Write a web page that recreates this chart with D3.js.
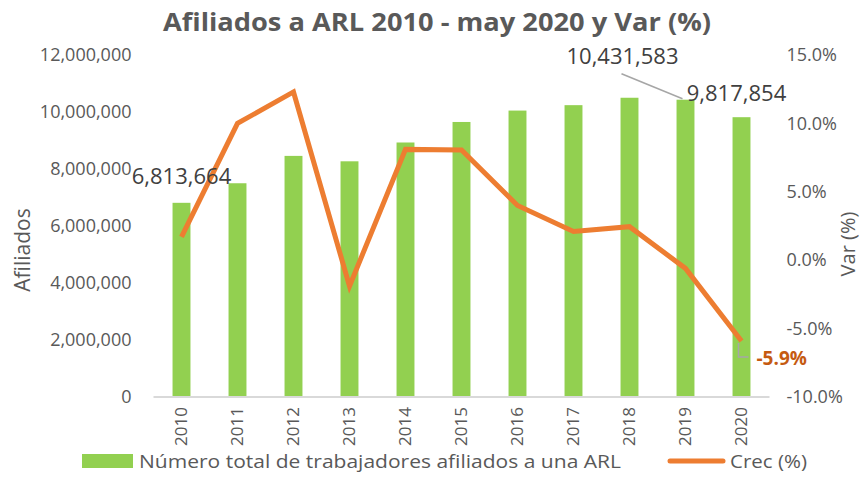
<!DOCTYPE html>
<html><head><meta charset="utf-8">
<script src="https://cdn.jsdelivr.net/npm/d3@7"></script>
<style>
html,body{margin:0;padding:0;background:#fff;}
svg{display:block;font-family:"Open Sans",sans-serif;}
</style></head>
<body><svg id="c" width="863" height="501"></svg>
<script>
const years = ["2010","2011","2012","2013","2014","2015","2016","2017","2018","2019","2020"];
const afiliados = [6813664,7500000,8460000,8270000,8930000,9650000,10050000,10240000,10500000,10431583,9817854];
const crec = [1.7,10.0,12.3,-1.9,8.1,8.05,4.0,2.1,2.45,-0.6,-5.9];
const leftTicks = [0,2000000,4000000,6000000,8000000,10000000,12000000];
const rightTicks = [-10,-5,0,5,10,15];
const title = "Afiliados a ARL 2010 - may 2020 y Var (%)";
const barLegend = "Número total de trabajadores afiliados a una ARL";
const lineLegend = "Crec (%)";

const svg = d3.select("#c");
const L = 153.5, R = 769.5, T = 55, B = 397;
const x = d3.scaleBand().domain(years).range([L, R]).paddingInner(0.68).paddingOuter(0.34);
const y = d3.scaleLinear().domain([0, 12000000]).range([B, T]);
const y2 = d3.scaleLinear().domain([-10, 15]).range([B, T]);
const cx = d => x(d) + x.bandwidth()/2;
const gray = "#595959";
const pct = d => d3.format(".1f")(d).replace("\u2212", "-") + "%";

// title
svg.append("text").attr("x", 437).attr("y", 31).attr("text-anchor","middle")
  .attr("font-size", 25).attr("font-weight","bold").attr("fill", gray)
  .attr("textLength", 548).attr("lengthAdjust","spacingAndGlyphs").text(title);

// bars
svg.append("g").selectAll("rect").data(years).join("rect")
  .attr("x", d => x(d)).attr("width", x.bandwidth())
  .attr("y", (d,i) => y(afiliados[i])).attr("height", (d,i) => B - y(afiliados[i]))
  .attr("fill", "#92D050");

// x axis line
svg.append("line").attr("x1", L).attr("x2", R).attr("y1", B).attr("y2", B)
  .attr("stroke", "#d9d9d9").attr("stroke-width", 2);

// left axis
const ga = svg.append("g").attr("transform", `translate(${L},0)`)
  .call(d3.axisLeft(y).tickValues(leftTicks).tickSize(0).tickPadding(22).tickFormat(d3.format(",")));
ga.select(".domain").remove();
ga.selectAll("text").attr("font-size", 18).attr("fill", gray).attr("font-family", "Open Sans");

// right axis
const gr = svg.append("g").attr("transform", `translate(${R},0)`)
  .call(d3.axisRight(y2).tickValues(rightTicks).tickSize(0).tickPadding(17).tickFormat(pct));
gr.select(".domain").remove();
gr.selectAll("text").attr("font-size", 18).attr("fill", gray).attr("font-family", "Open Sans");

// bottom axis
const gb = svg.append("g").attr("transform", `translate(0,${B})`)
  .call(d3.axisBottom(x).tickSize(0).tickPadding(0));
gb.select(".domain").remove();
gb.selectAll("text").attr("font-size", 17).attr("fill", gray).attr("font-family", "Open Sans")
  .attr("transform", "rotate(-90)").attr("text-anchor", "end").attr("x", -10).attr("y", 0).attr("dy", "0.35em");

// axis titles
svg.append("text").attr("transform", "translate(30,250) rotate(-90)").attr("text-anchor","middle")
  .attr("font-size", 21).attr("fill", gray).text("Afiliados");
svg.append("text").attr("transform", "translate(855,244) rotate(-90)").attr("text-anchor","middle")
  .attr("font-size", 20).attr("fill", gray).text("Var (%)");

// line
const line = d3.line().x((d,i) => cx(years[i])).y(d => y2(d));
svg.append("path").datum(crec).attr("d", line).attr("fill","none")
  .attr("stroke", "#ED7D31").attr("stroke-width", 5).attr("stroke-linejoin","miter");

// data labels
const lab = "#404040";
const fmt = d3.format(",");
svg.append("text").attr("x", cx("2010")).attr("y", y(afiliados[0]) - 19).attr("text-anchor","middle")
  .attr("font-size", 22).attr("fill", lab).text(fmt(afiliados[0]));
// 2019 label with leader
svg.append("line").attr("x1", cx("2019") - 64).attr("y1", y(afiliados[9]) - 26)
  .attr("x2", cx("2019") - 3).attr("y2", y(afiliados[9]) - 1).attr("stroke", "#a6a6a6").attr("stroke-width", 1.5);
svg.append("text").attr("x", cx("2019") - 63).attr("y", y(afiliados[9]) - 36).attr("text-anchor","middle")
  .attr("font-size", 22).attr("fill", lab).text(fmt(afiliados[9]));
svg.append("text").attr("x", cx("2020") - 5).attr("y", y(afiliados[10]) - 16).attr("text-anchor","middle")
  .attr("font-size", 22).attr("fill", lab).text(fmt(afiliados[10]));
// -5.9% label
const p20 = y2(crec[10]);
svg.append("path").attr("d", `M${cx("2020")-3},${p20+2}V${p20+16}H${cx("2020")+7}`)
  .attr("fill","none").attr("stroke", "#a6a6a6").attr("stroke-width", 1.5);
svg.append("text").attr("x", cx("2020") + 15).attr("y", p20 + 24)
  .attr("font-size", 19).attr("font-weight","bold").attr("fill", "#C55A11").text(pct(crec[10]));

// legend
svg.append("rect").attr("x", 82).attr("y", 454).attr("width", 51).attr("height", 14).attr("fill", "#92D050");
svg.append("text").attr("x", 139).attr("y", 468).attr("font-size", 19).attr("fill", gray)
  .attr("textLength", 482).attr("lengthAdjust","spacingAndGlyphs").text(barLegend);
svg.append("line").attr("x1", 670).attr("x2", 723).attr("y1", 461).attr("y2", 461)
  .attr("stroke", "#ED7D31").attr("stroke-width", 5).attr("stroke-linecap","round");
svg.append("text").attr("x", 730).attr("y", 468).attr("font-size", 19).attr("fill", gray)
  .attr("textLength", 77).attr("lengthAdjust","spacingAndGlyphs").text(lineLegend);
</script></body></html>
